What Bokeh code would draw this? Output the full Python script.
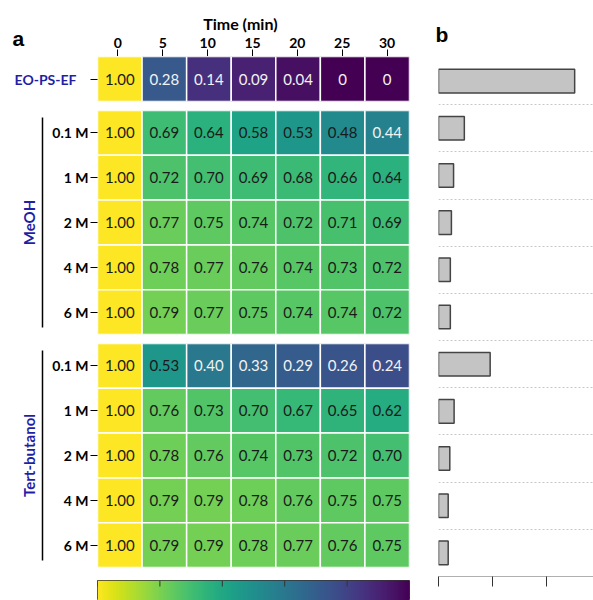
import numpy as np
from bokeh.plotting import figure
from bokeh.layouts import row, column
from bokeh.models import (ColumnDataSource, FactorRange, Range1d, LinearAxis, FixedTicker,
                          LinearColorMapper, Grid, Title)
from bokeh.core.properties import value
from bokeh.palettes import Viridis256
from bokeh.embed import file_html
from bokeh.resources import INLINE

# ---------------- data ----------------
times = [0, 5, 10, 15, 20, 25, 30]
ref_label = "EO-PS-EF"
ref_vals = [1.00, 0.28, 0.14, 0.09, 0.04, 0, 0]

conc = ["0.1 M", "1 M", "2 M", "4 M", "6 M"]
meoh_name = "MeOH"
meoh_vals = [
    [1.00, 0.69, 0.64, 0.58, 0.53, 0.48, 0.44],
    [1.00, 0.72, 0.70, 0.69, 0.68, 0.66, 0.64],
    [1.00, 0.77, 0.75, 0.74, 0.72, 0.71, 0.69],
    [1.00, 0.78, 0.77, 0.76, 0.74, 0.73, 0.72],
    [1.00, 0.79, 0.77, 0.75, 0.74, 0.74, 0.72],
]
tert_name = "Tert-butanol"
tert_vals = [
    [1.00, 0.53, 0.40, 0.33, 0.29, 0.26, 0.24],
    [1.00, 0.76, 0.73, 0.70, 0.67, 0.65, 0.62],
    [1.00, 0.78, 0.76, 0.74, 0.73, 0.72, 0.70],
    [1.00, 0.79, 0.79, 0.78, 0.76, 0.75, 0.75],
    [1.00, 0.79, 0.79, 0.78, 0.77, 0.76, 0.75],
]
# panel b bar values (same row order as the heatmap)
b_vals = [2.53, 0.48, 0.28, 0.24, 0.22, 0.22, 0.96, 0.29, 0.21, 0.18, 0.18]
b_ticks = [0, 1, 2]
cbar_ticks = [0.0, 0.2, 0.4, 0.6, 0.8, 1.0]
x_title = "Time (min)"
panel_a, panel_b = "a", "b"

# ---------------- styles ----------------
FONT = "Lato"
BLUE = "#1f1fa6"
mapper = LinearColorMapper(palette=Viridis256, low=0, high=1)
LEFT_W = 420
LEFT_M = 95
XR = (-2.5, 32.5)


def fmt(v):
    return "0" if v == 0 else f"{v:.2f}"


# ---- panel letter "a" (top-left corner) ----
p_a = figure(width=LEFT_M, height=56, x_range=Range1d(0, 1), y_range=Range1d(0, 1),
             output_backend="svg", toolbar_location=None, x_axis_location=None,
             y_axis_location=None, min_border_left=0, min_border_right=0,
             min_border_top=49, min_border_bottom=0)
p_a.grid.visible = False
p_a.outline_line_color = None
p_a.title = Title(text=panel_a, align="left", offset=12, standoff=0,
                  text_font="Liberation Sans", text_font_style="bold", text_font_size="21px",
                  text_color="black")

# ---- header: time axis and its title ----
p_head = figure(width=LEFT_W - LEFT_M, height=56, x_range=Range1d(*XR), y_range=Range1d(0, 1),
                output_backend="svg", toolbar_location=None, x_axis_location="above",
                y_axis_location=None,
                min_border_left=0, min_border_right=11, min_border_top=49, min_border_bottom=0)
p_head.grid.visible = False
p_head.outline_line_color = None
xa = p_head.xaxis[0]
xa.ticker = FixedTicker(ticks=times)
xa.axis_line_color = None
xa.major_tick_out = 0
xa.major_tick_in = 7
xa.minor_tick_line_color = None
xa.major_tick_line_color = "black"
xa.major_label_standoff = 2
xa.major_label_text_font = FONT
xa.major_label_text_font_style = "bold"
xa.major_label_text_font_size = "14px"
xa.major_label_text_color = "black"
p_head.add_layout(Title(text=x_title, align="left", offset=107.7, standoff=4,
                        text_font=FONT, text_font_style="bold", text_font_size="16px",
                        text_color="black"), "above")


def heat(labels, vals, height, top, bottom, label_color, standoff):
    n = len(labels)
    p = figure(width=LEFT_W, height=height, x_range=Range1d(*XR),
               y_range=Range1d(n, 0),
               output_backend="svg", toolbar_location=None, x_axis_location=None,
               min_border_left=LEFT_M, min_border_right=11,
               min_border_top=top, min_border_bottom=bottom)
    xs, ys, vs, ts, tcs = [], [], [], [], []
    for i, rowv in enumerate(vals):
        for t, v in zip(times, rowv):
            xs.append(t); ys.append(i + 0.5); vs.append(v); ts.append(fmt(v))
            tcs.append("#1a1a1a" if v > 0.45 else "#f2f2f2")
    src = ColumnDataSource(dict(x=xs, y=ys, v=vs, t=ts, tc=tcs))
    p.rect(x="x", y="y", width=5, height=1, source=src,
           fill_color={"field": "v", "transform": mapper},
           line_color="white", line_width=1.5)
    p.text(x="x", y="y", text="t", source=src, text_align="center", text_baseline="middle",
           text_font=value(FONT), text_font_size="15px", text_color="tc")
    p.grid.visible = False
    p.outline_line_color = None
    p.background_fill_color = "white"
    ya = p.yaxis[0]
    ya.ticker = FixedTicker(ticks=[i + 0.5 for i in range(n)])
    ya.major_label_overrides = {i + 0.5: lab for i, lab in enumerate(labels)}
    ya.axis_line_color = None
    ya.major_tick_out = 7
    ya.major_tick_in = 0
    ya.minor_tick_line_color = None
    ya.major_tick_line_color = "black"
    ya.major_label_standoff = standoff
    ya.major_label_text_font = FONT
    ya.major_label_text_font_style = "bold"
    ya.major_label_text_font_size = "14px"
    ya.major_label_text_color = label_color
    return p


def add_group(p, name, n):
    ya = p.yaxis[0]
    ya.axis_label = " "
    ya.axis_label_text_font_size = "2px"
    ya.axis_label_standoff = 2
    inset = 0.16
    ax = LinearAxis(ticker=FixedTicker(ticks=[]), bounds=(inset, n - inset),
                    axis_label=name, axis_label_standoff=5,
                    axis_label_text_font=FONT, axis_label_text_font_style="bold",
                    axis_label_text_font_size="15px", axis_label_text_color=BLUE,
                    major_tick_out=0, major_tick_in=0, minor_tick_out=0, minor_tick_in=0,
                    major_label_standoff=0,
                    axis_line_color="black", axis_line_width=1.5)
    p.add_layout(ax, "left")


p_ref = heat([ref_label], [ref_vals], 49, 0, 4, BLUE, 14)
p_meoh = heat(conc, meoh_vals, 234, 5, 5, "black", 2)
add_group(p_meoh, meoh_name, len(conc))
p_tert = heat(conc, tert_vals, 232, 4, 4, "black", 2)
add_group(p_tert, tert_name, len(conc))

# colour bar
p_cb = figure(width=LEFT_W, height=29, x_range=Range1d(1, 0), y_range=Range1d(0, 1),
              output_backend="svg", toolbar_location=None, x_axis_location=None,
              y_axis_location=None, min_border_left=97, min_border_right=10,
              min_border_top=9, min_border_bottom=0)
p_cb.image(image=[np.linspace(mapper.low, mapper.high, 256)[None, :]], x=0, y=0, dw=1, dh=1,
           color_mapper=mapper)
p_cb.segment(x0=cbar_ticks, x1=cbar_ticks, y0=[1] * len(cbar_ticks), y1=[0.7] * len(cbar_ticks),
             line_color="#333333", line_width=1)
p_cb.grid.visible = False
p_cb.outline_line_color = "#333333"

# panel b
b_rows = [ref_label] + [f"{meoh_name} {c}" for c in conc] + [f"{tert_name} {c}" for c in conc]
p_b = figure(width=173, height=600, x_range=Range1d(0, 2.88),
             y_range=FactorRange(factors=list(reversed(b_rows))),
             output_backend="svg", toolbar_location=None, y_axis_location=None,
             min_border_left=18, min_border_right=0, min_border_top=57, min_border_bottom=24)
p_b.title = Title(text=panel_b, align="left", offset=-3, standoff=23,
                  text_font="Liberation Sans", text_font_style="bold", text_font_size="21px",
                  text_color="black")
p_b.grid.visible = False
p_b.outline_line_color = None
p_b.add_layout(Grid(dimension=1, ticker=FixedTicker(ticks=list(range(1, len(b_rows)))),
                    grid_line_color="#c8c8c8", grid_line_dash="2 2", grid_line_width=1))
p_b.hbar(y=b_rows, left=0, right=b_vals, height=0.5, fill_color="#c4c4c4",
         line_color="#444444", line_width=1.5)
bx = p_b.xaxis[0]
bx.ticker = FixedTicker(ticks=b_ticks)
bx.major_label_overrides = {t: "" for t in b_ticks}
bx.axis_line_color = "#b0b0b0"
bx.major_tick_out = 10
bx.major_tick_in = 0
bx.minor_tick_line_color = None
bx.major_tick_line_color = "#333333"
bx.major_label_standoff = 0

layout = row(column(row(p_a, p_head), p_ref, p_meoh, p_tert, p_cb), p_b)
open("out.html", "w").write(file_html(layout, INLINE))
